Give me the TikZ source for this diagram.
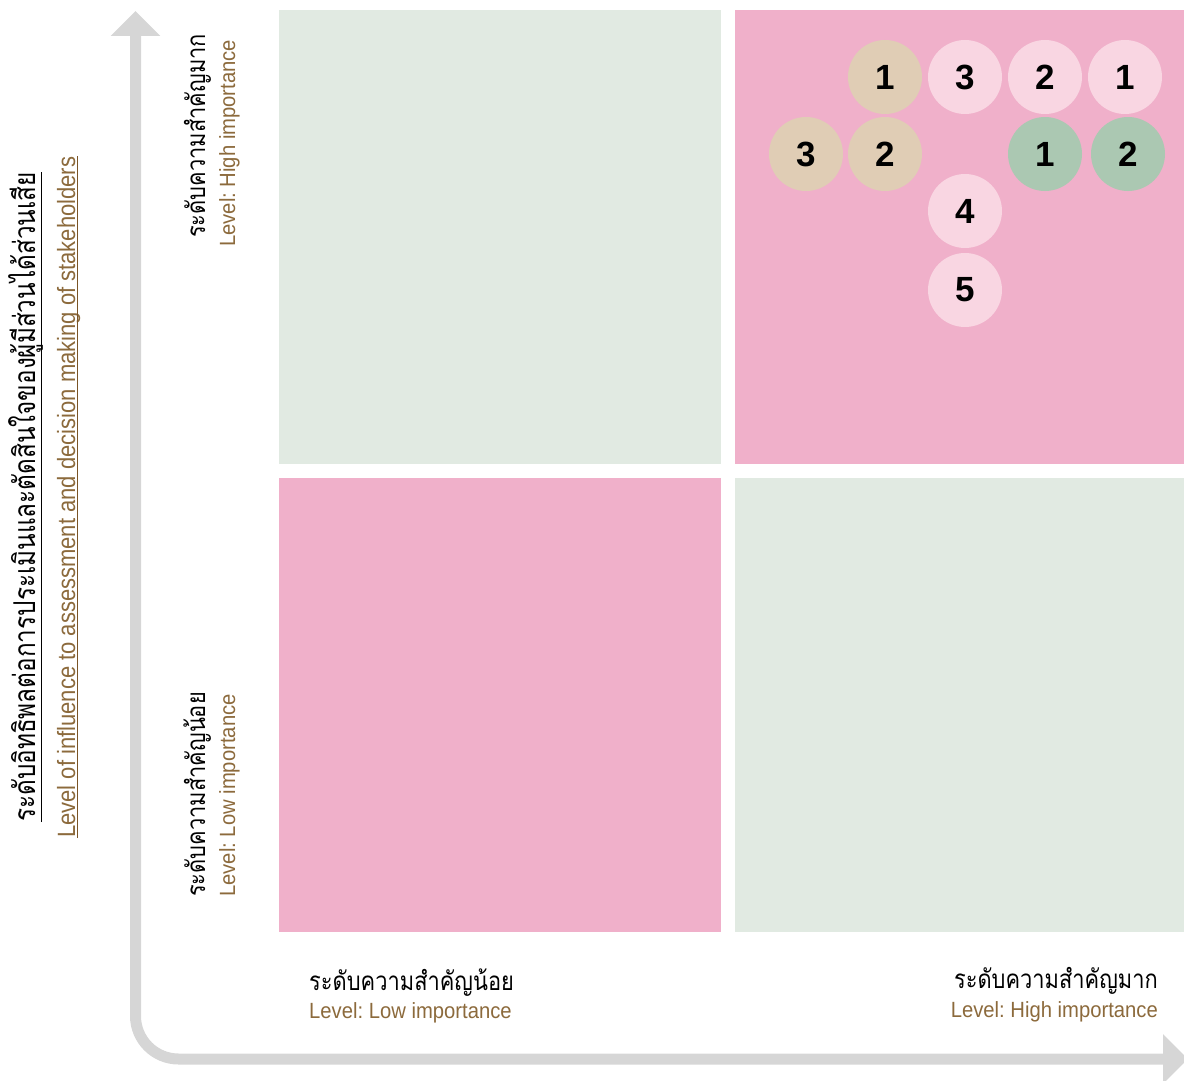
\documentclass[tikz,border=0pt]{standalone}
\usepackage{fontspec}
\setmainfont{Liberation Sans}
\newfontfamily\thaifont[Script=Thai, FakeStretch=0.84]{Loma}
\newfontfamily\thaititlefont[Script=Thai, FakeStretch=0.81]{Loma}
\newfontfamily\latinfont[FakeStretch=0.92]{Liberation Sans}
\newfontfamily\latintitlefont[FakeStretch=0.88]{Liberation Sans}
\usetikzlibrary{arrows.meta}
\frenchspacing

\definecolor{quadgreen}{HTML}{E1EAE2}
\definecolor{quadpink}{HTML}{F0B0CA}
\definecolor{dotpink}{HTML}{F9D6E2}
\definecolor{dottan}{HTML}{E0CDB5}
\definecolor{dotgreen}{HTML}{ABC8B2}
\definecolor{axisgray}{HTML}{D6D6D6}
\definecolor{labelbrown}{HTML}{8C6A3C}
\definecolor{linebrown}{HTML}{7A5426}

\begin{document}
\begin{tikzpicture}[x=1pt, y=-1pt,
		dtan/.style   = {circle, fill=dottan,   minimum size=74, inner sep=0, font=\fontsize{35}{35}\selectfont\bfseries},
		dpink/.style  = {circle, fill=dotpink,  minimum size=74, inner sep=0, font=\fontsize{35}{35}\selectfont\bfseries},
		dgreen/.style = {circle, fill=dotgreen, minimum size=74, inner sep=0, font=\fontsize{35}{35}\selectfont\bfseries},
		th/.style     = {inner sep=0, font=\thaifont\fontsize{26}{26}\selectfont},
		en/.style     = {inner sep=0, text=labelbrown, font=\latinfont\fontsize{22}{22}\selectfont},
		thbig/.style  = {inner sep=0, font=\thaititlefont\fontsize{30}{30}\selectfont},
		enbig/.style  = {inner sep=0, text=labelbrown, font=\latintitlefont\fontsize{25}{25}\selectfont},
		ax/.style     = {line width=11, draw=axisgray, rounded corners=43,
			{Triangle[width=48, length=25]}-{Triangle[width=48, length=25]}}
		]
		\useasboundingbox (0,0) rectangle (1184,1081);
		
		% === === Quadrants === ===
		\fill[quadgreen]	(279,10)	rectangle	(721,464);
		\fill[quadpink]		(735,10)	rectangle	(1184,464);
		\fill[quadpink]		(279,478)	rectangle	(721,932);
		\fill[quadgreen]	(735,478)	rectangle	(1184,932);
		
		% === === Axes === ===
		\coordinate	(ytop)		at	(135.5,11);
		\coordinate	(origin)	at	(135.5,1059);
		\coordinate	(xend)		at	(1188,1059);
		\draw[ax]	(ytop)	--	(origin)	--	(xend);
		
		% === === Labels === ===
		\node[th, anchor=base west]				(xlo-th)	at	(309,990)	{ระดับความสำคัญน้อย};
		\node[en, anchor=base west]				(xlo-en)	at	(309,1018)	{Level: Low importance};
		\node[th, anchor=base east]				(xhi-th)	at	(1158,988)	{ระดับความสำคัญมาก};
		\node[en, anchor=base east]				(xhi-en)	at	(1158,1017)	{Level: High importance};
		
		\node[th, rotate=90, anchor=base west]	(yhi-th)	at	(205,238)	{ระดับความสำคัญมาก};
		\node[en, rotate=90, anchor=base west]	(yhi-en)	at	(235,247)	{Level: High importance};
		\node[th, rotate=90, anchor=base west]	(ylo-th)	at	(205,897)	{ระดับความสำคัญน้อย};
		\node[en, rotate=90, anchor=base west]	(ylo-en)	at	(235,897)	{Level: Low importance};
		
		\node[thbig, rotate=90, anchor=base west]	(ytitle-th)	at	(35,822)	{ระดับอิทธิพลต่อการประเมินและตัดสินใจของผู้มีส่วนได้ส่วนเสีย};
		\node[enbig, rotate=90, anchor=base west]	(ytitle-en)	at	(75,838)	{Level of influence to assessment and decision making of stakeholders};
		\draw[black, line width=1]		([xshift=6]ytitle-th.base west)	--	([xshift=6]ytitle-th.base east);
		\draw[linebrown, line width=1]	([xshift=2]ytitle-en.base west)	--	([xshift=2]ytitle-en.base east);
		
		% === === Stakeholders === ===
		\node[dtan]		(h1)	at	(885,77)	{1};
		\node[dpink]	(p3)	at	(965,77)	{3};
		\node[dpink]	(p2)	at	(1045,77)	{2};
		\node[dpink]	(p1)	at	(1125,77)	{1};
		\node[dtan]		(h3)	at	(806,154)	{3};
		\node[dtan]		(h2)	at	(885,154)	{2};
		\node[dgreen]	(g1)	at	(1045,154)	{1};
		\node[dgreen]	(g2)	at	(1128,154)	{2};
		\node[dpink]	(p4)	at	(965,211)	{4};
		\node[dpink]	(p5)	at	(965,290)	{5};
		
	\end{tikzpicture}
\end{document}
